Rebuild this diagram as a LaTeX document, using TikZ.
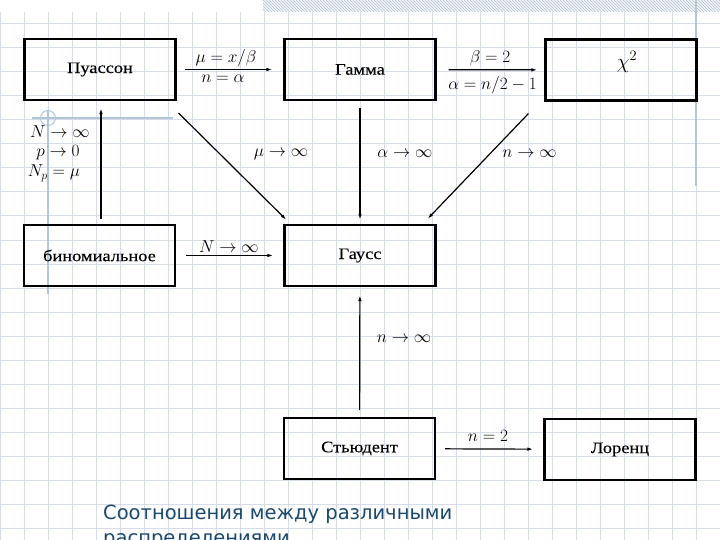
\documentclass[tikz,border=0pt]{standalone}
\usepackage[no-math]{fontspec}
\newfontfamily\cyr[FakeStretch=1.15,FakeBold=0.15]{Liberation Serif}
\newfontfamily\capfont{DejaVu Sans}
\usetikzlibrary{arrows.meta,calc}
\definecolor{gridcol}{RGB}{214,221,230}
\definecolor{decocol}{RGB}{178,198,218}
\definecolor{hatchcol}{RGB}{186,199,212}
\definecolor{capcol}{RGB}{27,72,110}
\tikzset{
  distbox/.style={draw, line width=2.2pt, minimum width=151pt, minimum height=61pt,
    inner sep=0pt, font=\cyr\fontsize{16}{19}\selectfont},
  mlbl/.style={anchor=base, inner sep=0pt, font=\fontsize{17}{20}\selectfont},
  arr/.style={line width=1.2pt, -{Latex[length=6pt,width=3.5pt]}},
  gridline/.style={gridcol, line width=1pt},
  capline/.style={anchor=base west, inner sep=0pt, text=capcol,
    font=\capfont\fontsize{19.5}{25}\selectfont},
}
\begin{document}
\begin{tikzpicture}[x=1pt, y=-1pt]
    \fill[white] (0,0) rectangle (720,540);
    \useasboundingbox (0,0) rectangle (720,540);

    % squared paper
    \foreach \x in {0,24,...,720} \draw[gridline] (\x,12) -- (\x,540);
    \foreach \y in {24,48,...,528} \draw[gridline] (0,\y) -- (720,\y);
    \draw[decocol, line width=2pt] (32,118) -- (173,118);
    \draw[decocol, line width=2pt] (48,110) -- (48,294);
    \draw[decocol, line width=1pt] (48,118) circle[radius=7.5];
    \draw[decocol, line width=2pt] (696,0) -- (696,186);
    \begin{scope}
        \clip (263,0) rectangle (720,12);
        \foreach \i in {251,254,...,720} \draw[hatchcol, line width=0.9pt] (\i,0) -- (\i+12,12);
    \end{scope}

    % distributions
    \node[distbox] (puas) at (100,69.5) {Пуассон};
    \node[distbox] (gamma) at (360,69.5) {Гамма};
    \node[distbox] (chi) at (621,70) {\hspace*{12pt}\raisebox{1.5pt}[0pt][0pt]{\fontsize{20}{24}\selectfont$\chi^2$}};
    \node[distbox] (binom) at (99.5,255.5) {биномиальное};
    \node[distbox] (gauss) at (360,255.5) {Гаусс};
    \node[distbox] (stud) at (359.5,448.5) {Стьюдент};
    \node[distbox] (lorenz) at (620,449.5) {Лоренц};

    % limits
    \draw[arr, shorten <=8pt, shorten >=11pt] (puas) -- (gamma);
    \draw[arr, shorten <=12pt, shorten >=7pt] (gamma) -- (chi);
    \draw[arr, shorten <=10pt, shorten >=10pt] (binom) -- (gauss);
    \draw[arr, shorten <=9pt, shorten >=10pt] (stud) -- (lorenz);
    \draw[arr, shorten <=5pt, shorten >=7pt] ([xshift=1.5pt]binom.north) -- ([xshift=1pt]puas.south);
    \draw[arr, shorten <=7pt, shorten >=4pt] (gamma) -- (gauss);
    \draw[arr, shorten <=7pt, shorten >=8pt] (stud) -- (gauss);
    \draw[arr] ($(puas.south east)+(2,12)$) -- ($(gauss.north west)+(3,-4)$);
    \draw[arr] ($(chi.south west)+(-16,12)$) -- ($(gauss.north east)+(-9,-5)$);

    \node[mlbl] (pg1) at (226,63) {$\mu=x/\beta$};
    \node[mlbl] (pg2) at (223,83) {$n=\alpha$};
    \node[mlbl] (gc1) at (490,63) {$\beta=2$};
    \node[mlbl] (gc2) at (492.5,90) {$\alpha=n/2-1$};
    \node[mlbl] (bp1) at (60,137.5) {$N\to\infty$};
    \node[mlbl] (bp2) at (58,157) {$p\to0$};
    \node[mlbl] (bp3) at (54,177) {$N_p=\mu$};
    \node[mlbl] (pga) at (281,157) {$\mu\to\infty$};
    \node[mlbl] (gga) at (405,157.5) {$\alpha\to\infty$};
    \node[mlbl] (cga) at (529.5,157.5) {$n\to\infty$};
    \node[mlbl] (bga) at (229,252) {$N\to\infty$};
    \node[mlbl] (sga) at (404,342) {$n\to\infty$};
    \node[mlbl] (sla) at (488,441) {$n=2$};

    \node[capline] (cap1) at (103,519) {Соотношения между различными};
    \node[capline] (cap2) at (103,544) {распределениями};
\end{tikzpicture}
\end{document}
